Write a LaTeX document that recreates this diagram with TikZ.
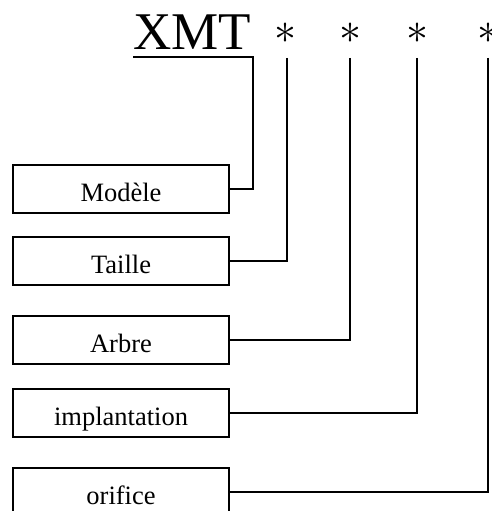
\documentclass[tikz,border=0pt]{standalone}
\usepackage{graphicx}
\usepackage{fontspec}
\setmainfont{Liberation Serif}
\begin{document}
\begin{tikzpicture}[x=1pt,y=-1pt,
  line width=1.5pt,
  labelbox/.style={draw, line width=1.5pt, minimum width=216pt, minimum height=48pt,
    inner sep=0pt, text height=24pt, text depth=0pt,
    font=\fontsize{26.5}{30}\selectfont},
  bigtext/.style={inner sep=0pt, font=\fontsize{53}{60}\selectfont},
  star/.style={inner sep=0pt}]
\clip (0,0) rectangle (492,511);
% title
\node[bigtext, anchor=base west] (xmt) at (132.5,49) {XMT};
\node[star, anchor=base] (s1) at (285,44) {\scalebox{4.4}{$\ast$}};
\node[star, anchor=base] (s2) at (350,44) {\scalebox{4.4}{$\ast$}};
\node[star, anchor=base] (s3) at (417,44) {\scalebox{4.4}{$\ast$}};
\node[star, anchor=base] (s4) at (488,44) {\scalebox{4.4}{$\ast$}};
% boxes
\node[labelbox] (b1) at (121,189) {Modèle};
\node[labelbox] (b2) at (121,261) {Taille};
\node[labelbox] (b3) at (121,340) {Arbre};
\node[labelbox] (b4) at (121,413) {implantation};
\node[labelbox] (b5) at (121,492) {orifice};
% connector anchors
\coordinate (u0) at (133,57);
\coordinate (u1) at (253,57);
\coordinate (t1) at (287,58);
\coordinate (t2) at (350,58);
\coordinate (t3) at (417,58);
\coordinate (t4) at (488,58);
% connectors
\draw (u0) -- (u1) |- (b1.east);
\draw (t1) |- (b2.east);
\draw (t2) |- (b3.east);
\draw (t3) |- (b4.east);
\draw (t4) |- (b5.east);
\end{tikzpicture}
\end{document}
